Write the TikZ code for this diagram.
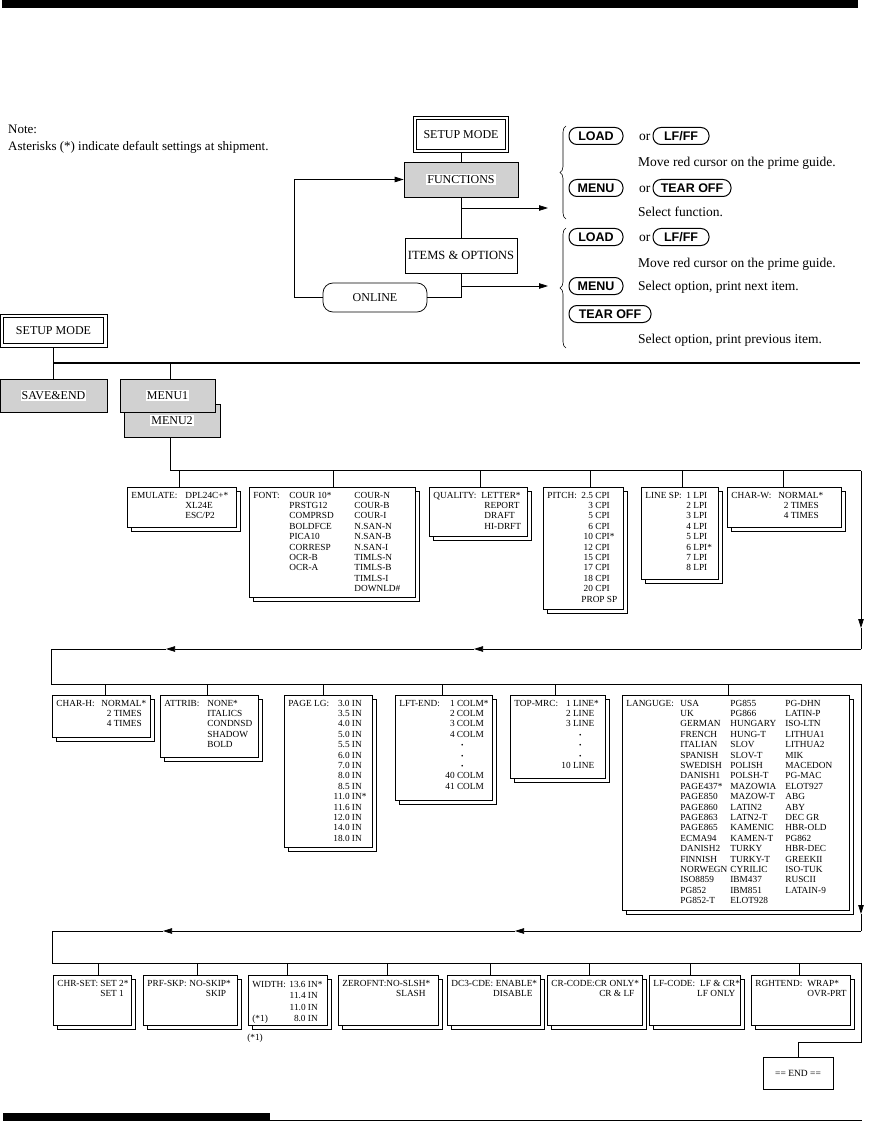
\documentclass[tikz,border=0pt]{standalone}
\usepackage{fontspec}
\setmainfont{Liberation Serif}
\setsansfont{Liberation Sans}
\usetikzlibrary{arrows.meta,shadows,decorations.pathreplacing}
\definecolor{boxgray}{gray}{0.82}
\setlength{\fboxsep}{1pt}
\newcommand\hfnt{\fontsize{12}{14}\selectfont}
\newcommand\bfnt{\fontsize{13.5}{16}\selectfont}
\newcommand\nfnt{\fontsize{13}{16}\selectfont}
\newcommand\lfnt{\fontsize{9.3}{10.4}\selectfont}
\newcommand\btnfnt{\sffamily\bfseries\fontsize{12.5}{14}\selectfont}
\newcommand\astr{\rlap{*}}
\newcommand\lb[2]{\makebox[#1pt][l]{#2}}
\newcommand\obx[3]{\parbox[c][#2pt][t]{#1pt}{\lfnt\vspace*{3.5pt}\hspace*{4pt}#3}}
\newcommand\dt{{\fontsize{7}{7}\selectfont\textbullet}}
\tikzset{
  ln/.style={line width=0.75pt},
  arr/.style={line width=0.75pt,-{Triangle[length=9pt,width=5.5pt]}},
  hbox/.style={draw,line width=0.75pt,font=\hfnt,inner sep=0pt},
  inbox/.style={draw,line width=0.75pt,inner sep=0pt},
  gbox/.style={draw,line width=0.75pt,fill=boxgray,font=\hfnt,inner sep=0pt},
  onl/.style={draw,line width=0.75pt,rounded corners=10pt,font=\hfnt,minimum width=104pt,minimum height=29pt},
  btn/.style={draw,line width=1pt,rounded corners=8pt,font=\btnfnt,inner xsep=6pt,inner ysep=0pt,minimum height=17pt},
  txt/.style={anchor=base west,inner sep=0pt,font=\bfnt},
  optbox/.style={draw,line width=0.75pt,fill=white,inner sep=0pt,anchor=north west,
     copy shadow={shadow xshift=4pt,shadow yshift=-4pt,draw=black,fill=white,line width=0.75pt}},
}
\begin{document}
\begin{tikzpicture}[x=1pt,y=-1pt]
\useasboundingbox (0,0) rectangle (868,1123);
% page bars
\fill (2,0) rectangle (858,8);
\fill (3,1113) rectangle (270,1121);
\draw[line width=0.8pt] (270,1120.6) -- (862,1120.6);

% note
\node[txt,font=\nfnt] (note1) at (8,134) {Note:};
\node[txt,font=\nfnt] (note2) at (8,151) {Asterisks (*) indicate default settings at shipment.};

% top flow
\node[hbox,minimum width=95pt,minimum height=36pt] (smtop) at (461,134.5) {SETUP MODE};
\node[inbox,minimum width=88.5pt,minimum height=29.5pt] (smtopin) at (smtop.center) {};
\node[gbox,minimum width=114pt,minimum height=35pt] (func) at (461,179.5) {\colorbox{white}{FUNCTIONS}};
\node[hbox,minimum width=112pt,minimum height=35pt,font=\fontsize{12.5}{14}\selectfont] (items) at (461,255.5) {ITEMS \& OPTIONS};
\node[onl] (online) at (375,297.5) {ONLINE};
\draw[ln] (smtop) -- (func);
\draw[ln] (func) -- (items);
\coordinate (ia) at (461,297.5);
\draw[ln] (items.south) -- (ia) -- (online.east);
\coordinate (la) at (294,297.5);
\coordinate (lb) at (294,179.5);
\draw[arr] (online.west) -- (la) -- (lb) -- (func.west);
\coordinate (fa) at (461,208);
\coordinate (fb) at (548,208);
\draw[arr] (fa) -- (fb);
\coordinate (ib) at (461,286);
\coordinate (ic) at (548,286);
\draw[arr] (ib) -- (ic);

% braces
\coordinate (b1a) at (566,219);
\coordinate (b1b) at (566,126);
\draw[line width=0.6pt,decorate,decoration={brace,amplitude=6pt}] (b1a) -- (b1b);
\coordinate (b2a) at (566,348);
\coordinate (b2b) at (566,228);
\draw[line width=0.6pt,decorate,decoration={brace,amplitude=6pt}] (b2a) -- (b2b);

% key instructions
\node[btn,minimum width=54pt] (loadA) at (596,136) {LOAD};
\node[txt] (orA) at (639,140.5) {or};
\node[btn,minimum width=56pt] (lfffA) at (681,136) {LF/FF};
\node[txt] (moveA) at (638,166.5) {Move red cursor on the prime guide.};
\node[btn,minimum width=54pt] (menuA) at (596,188) {MENU};
\node[txt] (orB) at (639,192.5) {or};
\node[btn,minimum width=78pt] (tearA) at (692,188) {TEAR OFF};
\node[txt] (selA) at (638,216.5) {Select function.};
\node[btn,minimum width=54pt] (loadB) at (596,237) {LOAD};
\node[txt] (orC) at (639,241.5) {or};
\node[btn,minimum width=56pt] (lfffB) at (681,237) {LF/FF};
\node[txt] (moveB) at (638,267.5) {Move red cursor on the prime guide.};
\node[btn,minimum width=54pt] (menuB) at (596,286) {MENU};
\node[txt] (selB) at (638,290.5) {Select option, print next item.};
\node[btn,minimum width=82pt] (tearB) at (610,314) {TEAR OFF};
\node[txt] (selC) at (638,343.5) {Select option, print previous item.};

% lower setup mode
\node[hbox,minimum width=107pt,minimum height=33pt] (smlow) at (53.5,330.5) {SETUP MODE};
\node[inbox,minimum width=100.5pt,minimum height=26.5pt] (smlowin) at (smlow.center) {};
\coordinate (tl) at (53,363);
\coordinate (tr) at (860,363);
\draw[line width=2pt] (tl) -- (tr);
\draw[ln] (smlow.south -| tl) -- (tl);
\node[gbox,minimum width=107pt,minimum height=33pt] (save) at (53.5,395.5) {\colorbox{white}{SAVE\&END}};
\draw[ln] (tl) -- (tl |- save.north);
\node[gbox,minimum width=96pt,minimum height=33pt] (menu2) at (172,420.5) {\colorbox{white}{MENU2}};
\node[gbox,minimum width=95pt,minimum height=33pt] (menu1) at (167.5,395.5) {\colorbox{white}{MENU1}};
\coordinate (m1t) at (170,363);
\draw[ln] (m1t) -- (m1t |- menu1.north);
\coordinate (r1a) at (170,470.5);
\coordinate (r1b) at (861,470.5);
\draw[ln] (r1a |- menu2.south) -- (r1a) -- (r1b);

% row 1
\node[optbox] (emu) at (127,487) {\obx{109}{40}{\begin{tabular}[t]{@{}l@{}l@{}}\lb{54}{EMULATE:} & DPL24C+*\\ & XL24E\\ & ESC/P2\end{tabular}}};
\node[optbox] (font) at (249,487) {\obx{166}{110}{\begin{tabular}[t]{@{}l@{}p{65pt}@{}l@{}}\lb{36}{FONT:} & COUR 10* & COUR-N\\ & PRSTG12 & COUR-B\\ & COMPRSD & COUR-I\\ & BOLDFCE & N.SAN-N\\ & PICA10 & N.SAN-B\\ & CORRESP & N.SAN-I\\ & OCR-B & TIMLS-N\\ & OCR-A & TIMLS-B\\ & & TIMLS-I\\ & & DOWNLD\#\end{tabular}}};
\node[optbox] (qual) at (429,487) {\obx{98}{49}{\begin{tabular}[t]{@{}l@{}l@{}}\lb{48}{QUALITY:} & LETTER*\\ & \hspace*{3pt}REPORT\\ & \hspace*{3pt}DRAFT\\ & \hspace*{3pt}HI-DRFT\end{tabular}}};
\node[optbox] (pitch) at (543,487) {\obx{80}{122}{\begin{tabular}[t]{@{}l@{}r@{\ }l@{}}\lb{34}{PITCH:} & 2.5 & CPI\\ & 3 & CPI\\ & 5 & CPI\\ & 6 & CPI\\ & 10 & CPI\astr\\ & 12 & CPI\\ & 15 & CPI\\ & 17 & CPI\\ & 18 & CPI\\ & 20 & CPI\\ & \multicolumn{2}{@{}l@{}}{PROP SP}\end{tabular}}};
\node[optbox] (linesp) at (641,487) {\obx{77}{92}{\begin{tabular}[t]{@{}l@{}r@{\ }l@{}}\lb{41}{LINE SP:} & 1 & LPI\\ & 2 & LPI\\ & 3 & LPI\\ & 4 & LPI\\ & 5 & LPI\\ & 6 & LPI\astr\\ & 7 & LPI\\ & 8 & LPI\end{tabular}}};
\node[optbox] (charw) at (727,487) {\obx{114}{40}{\begin{tabular}[t]{@{}l@{}r@{}}\lb{47}{CHAR-W:} & NORMAL\astr\\ & 2 TIMES\\ & 4 TIMES\end{tabular}}};
\foreach \x/\n in {179/emu,333/font,480/qual,590/pitch,682/linesp,783/charw}{
  \path (\x,470.5) coordinate (tmp);
  \draw[ln] (tmp) -- (tmp |- \n.north);
}

% row 1 -> row 2
\coordinate (r1arr) at (861,628);
\coordinate (r1c) at (861,649);
\draw[arr] (r1b) -- (r1arr);
\draw[ln] (r1arr) -- (r1c);
\coordinate (r2a1) at (474,649);
\coordinate (r2a2) at (166,649);
\coordinate (r2l) at (51,649);
\coordinate (r2ll) at (51,684);
\coordinate (r2r) at (861,684);
\draw[arr] (r1c) -- (r2a1);
\draw[arr] (r2a1) -- (r2a2);
\draw[ln] (r2a2) -- (r2l) -- (r2ll) -- (r2r);

% row 2
\node[optbox] (charh) at (52,695) {\obx{98}{42}{\begin{tabular}[t]{@{}l@{}r@{}}\lb{45}{CHAR-H:} & NORMAL\astr\\ & 2 TIMES\\ & 4 TIMES\end{tabular}}};
\node[optbox] (attrib) at (160,695) {\obx{98}{62}{\begin{tabular}[t]{@{}l@{}l@{}}\lb{43}{ATTRIB:} & NONE*\\ & ITALICS\\ & CONDNSD\\ & SHADOW\\ & BOLD\end{tabular}}};
\node[optbox] (pagelg) at (284,695) {\obx{88}{152}{\begin{tabular}[t]{@{}l@{}r@{\ }l@{}}\lb{45}{PAGE LG:} & 3.0 & IN\\ & 3.5 & IN\\ & 4.0 & IN\\ & 5.0 & IN\\ & 5.5 & IN\\ & 6.0 & IN\\ & 7.0 & IN\\ & 8.0 & IN\\ & 8.5 & IN\\ & 11.0 & IN\astr\\ & 11.6 & IN\\ & 12.0 & IN\\ & 14.0 & IN\\ & 18.0 & IN\end{tabular}}};
\node[optbox] (lftend) at (395,695) {\obx{97}{105}{\begin{tabular}[t]{@{}l@{}r@{\ }l@{}}\lb{46}{LFT-END:} & 1 & COLM\astr\\ & 2 & COLM\\ & 3 & COLM\\ & 4 & COLM\\ & & \hspace*{4pt}\dt\\ & & \hspace*{4pt}\dt\\ & & \hspace*{4pt}\dt\\ & 40 & COLM\\ & 41 & COLM\end{tabular}}};
\node[optbox] (topmrc) at (510,695) {\obx{95}{83}{\begin{tabular}[t]{@{}l@{}r@{\ }l@{}}\lb{47}{TOP-MRC:} & 1 & LINE\astr\\ & 2 & LINE\\ & 3 & LINE\\ & & \hspace*{6pt}\dt\\ & & \hspace*{6pt}\dt\\ & & \hspace*{6pt}\dt\\ & 10 & LINE\end{tabular}}};
\node[optbox] (langue) at (622,695) {\obx{227}{215}{\begin{tabular}[t]{@{}l@{}p{50pt}@{}p{55pt}@{}l@{}}\lb{54}{LANGUGE:} & USA & PG855 & PG-DHN\\ & UK & PG866 & LATIN-P\\ & GERMAN & HUNGARY & ISO-LTN\\ & FRENCH & HUNG-T & LITHUA1\\ & ITALIAN & SLOV & LITHUA2\\ & SPANISH & SLOV-T & MIK\\ & SWEDISH & POLISH & MACEDON\\ & DANISH1 & POLSH-T & PG-MAC\\ & PAGE437* & MAZOWIA & ELOT927\\ & PAGE850 & MAZOW-T & ABG\\ & PAGE860 & LATIN2 & ABY\\ & PAGE863 & LATN2-T & DEC GR\\ & PAGE865 & KAMENIC & HBR-OLD\\ & ECMA94 & KAMEN-T & PG862\\ & DANISH2 & TURKY & HBR-DEC\\ & FINNISH & TURKY-T & GREEKII\\ & NORWEGN & CYRILIC & ISO-TUK\\ & ISO8859 & IBM437 & RUSCII\\ & PG852 & IBM851 & LATAIN-9\\ & PG852-T & ELOT928 & \end{tabular}}};
\foreach \x/\n in {105/charh,207/attrib,323/pagelg,442/lftend,555/topmrc,728/langue}{
  \path (\x,684) coordinate (tmp);
  \draw[ln] (tmp) -- (tmp |- \n.north);
}

% row 2 -> row 3
\coordinate (r2arr) at (861,914);
\coordinate (r2c) at (861,931);
\draw[arr] (r2r) -- (r2arr);
\draw[ln] (r2arr) -- (r2c);
\coordinate (r3a1) at (515,931);
\coordinate (r3a2) at (163,931);
\coordinate (r3l) at (52,931);
\coordinate (r3ll) at (52,963);
\coordinate (r3r) at (861,963);
\coordinate (r3d) at (861,1042);
\coordinate (r3e) at (798,1042);
\draw[arr] (r2c) -- (r3a1);
\draw[arr] (r3a1) -- (r3a2);
\draw[ln] (r3a2) -- (r3l) -- (r3ll) -- (r3r);

% row 3
\node[optbox] (chrset) at (53,975) {\obx{78}{50}{\begin{tabular}[t]{@{}l@{}l@{}}\lb{43}{CHR-SET:} & SET 2*\\ & SET 1\end{tabular}}};
\node[optbox] (prfskp) at (143,975) {\obx{94}{50}{\begin{tabular}[t]{@{}l@{}r@{}}\lb{42}{PRF-SKP:} & NO-SKIP\astr\\ & SKIP\end{tabular}}};
\node[optbox] (width) at (248,975) {\obx{79}{50}{\renewcommand\arraystretch{1.12}\begin{tabular}[t]{@{}l@{}r@{\ }l@{}}\lb{37}{WIDTH:} & 13.6 & IN\astr\\ & 11.4 & IN\\ & 11.0 & IN\\ (*1) & 8.0 & IN\end{tabular}}};
\node[optbox] (zerofnt) at (338,975) {\obx{100}{50}{\begin{tabular}[t]{@{}l@{}r@{}}ZEROFNT: & NO-SLSH\astr\\ & SLASH\end{tabular}}};
\node[optbox] (dccde) at (447,975) {\obx{93}{50}{\begin{tabular}[t]{@{}l@{}r@{}}DC3-CDE: & ENABLE\astr\\ & DISABLE\end{tabular}}};
\node[optbox] (crcode) at (547,975) {\obx{95}{50}{\begin{tabular}[t]{@{}l@{}r@{}}CR-CODE: & CR ONLY\astr\\ & CR \& LF\end{tabular}}};
\node[optbox] (lfcode) at (649,975) {\obx{91}{50}{\begin{tabular}[t]{@{}l@{\hspace{2pt}}r@{}}LF-CODE: & LF \& CR\astr\\ & LF ONLY\end{tabular}}};
\node[optbox] (rghtend) at (751,975) {\obx{99}{50}{\begin{tabular}[t]{@{}l@{}l@{}}\lb{52}{RGHTEND:} & WRAP*\\ & OVR-PRT\end{tabular}}};
\foreach \x/\n in {98/chrset,197/prfskp,287/width,387/zerofnt,490/dccde,589/crcode,690/lfcode,799/rghtend}{
  \path (\x,963) coordinate (tmp);
  \draw[ln] (tmp) -- (tmp |- \n.north);
}
\node[font=\lfnt,inner sep=0pt] (note3) at (255,1038) {(*1)};

% end
\node[hbox,minimum width=70pt,minimum height=32pt,font=\fontsize{9.5}{11}\selectfont] (endb) at (798,1073) {== END ==};
\draw[ln] (r3r) -- (r3d) -- (r3e) -- (endb.north);
\end{tikzpicture}
\end{document}
